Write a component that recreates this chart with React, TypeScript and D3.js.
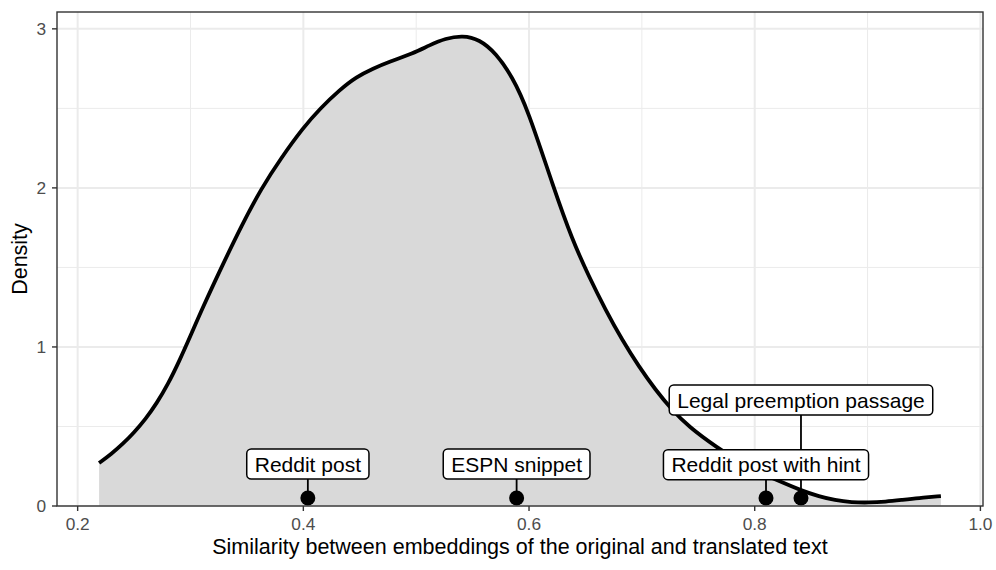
import * as React from "react";
import * as d3 from "d3";

// density curve (similarity, density)
const similarity = [
  0.219, 0.230, 0.240, 0.250, 0.260, 0.270, 0.280, 0.290, 0.300, 0.311,
  0.3274, 0.345, 0.363, 0.380, 0.400, 0.415, 0.432, 0.447, 0.462, 0.476,
  0.497, 0.512, 0.526, 0.541, 0.556, 0.571, 0.585, 0.5986, 0.6218, 0.6384,
  0.6532, 0.6679, 0.6826, 0.6974, 0.7122, 0.7268, 0.7416, 0.7652, 0.795, 0.821,
  0.842, 0.857, 0.871, 0.886, 0.901, 0.916, 0.930, 0.945, 0.965,
];
const density = [
  0.270, 0.328, 0.390, 0.462, 0.545, 0.645, 0.765, 0.910, 1.070, 1.250,
  1.500, 1.760, 2.000, 2.185, 2.380, 2.500, 2.615, 2.698, 2.751, 2.793,
  2.845, 2.898, 2.940, 2.958, 2.935, 2.845, 2.700, 2.500, 2.000, 1.672,
  1.441, 1.232, 1.043, 0.876, 0.729, 0.603, 0.498, 0.373, 0.240, 0.158,
  0.095, 0.060, 0.036, 0.023, 0.021, 0.027, 0.038, 0.050, 0.062,
];

// highlighted examples
const exampleNames = ["Reddit post", "ESPN snippet", "Reddit post with hint", "Legal preemption passage"];
const exampleScores = [0.404, 0.589, 0.81, 0.841];
const exampleLabelY = [0.264, 0.264, 0.26, 0.666];
const pointY = 0.05;

const xTicks = [0.2, 0.4, 0.6, 0.8, 1.0];
const xMinor = [0.3, 0.5, 0.7, 0.9];
const yTicks = [0, 1, 2, 3];
const yMinor = [0.5, 1.5, 2.5];

const width = 996;
const height = 570;
const font = "'Liberation Sans', Arial, Helvetica, sans-serif";

export default function App() {
  const left = 57, right = 983, top = 12, bottom = 506;

  const pts = similarity.map((s, i) => ({ x: s, y: density[i] }));
  const xr = d3.extent(similarity) as [number, number];
  const pad = (xr[1] - xr[0]) * 0.05;
  const x = d3.scaleLinear().domain([xr[0] - pad, xr[1] + pad]).range([left, right]);
  const y = d3.scaleLinear().domain([0, d3.max(density)! * 1.05]).range([bottom, top]);

  const area = d3.area<{ x: number; y: number }>()
    .x(d => x(d.x)).y0(y(0)).y1(d => y(d.y))
    .curve(d3.curveBasis);
  const line = d3.line<{ x: number; y: number }>()
    .x(d => x(d.x)).y(d => y(d.y))
    .curve(d3.curveBasis);

  const fmt = d3.format(".1f");

  return (
    <div style={{ position: "absolute", left: 0, top: 0 }}>
      <svg width={width} height={height} style={{ display: "block", fontFamily: font }}>
        <rect width={width} height={height} fill="#fff" />
        {/* grid */}
        {xMinor.map(t => (
          <line key={"xm" + t} x1={x(t)} x2={x(t)} y1={top} y2={bottom} stroke="#EBEBEB" strokeWidth={1} />
        ))}
        {yMinor.map(t => (
          <line key={"ym" + t} x1={left} x2={right} y1={y(t)} y2={y(t)} stroke="#EBEBEB" strokeWidth={1} />
        ))}
        {xTicks.map(t => (
          <line key={"xg" + t} x1={x(t)} x2={x(t)} y1={top} y2={bottom} stroke="#EBEBEB" strokeWidth={2} />
        ))}
        {yTicks.map(t => (
          <line key={"yg" + t} x1={left} x2={right} y1={y(t)} y2={y(t)} stroke="#EBEBEB" strokeWidth={2} />
        ))}

        {/* density */}
        <path d={area(pts)!} fill="#D9D9D9" />
        <path d={line(pts)!} fill="none" stroke="#000" strokeWidth={3.8} strokeLinejoin="round" />

        {/* segments, points */}
        {exampleScores.map((s, i) => (
          <line key={"seg" + i} x1={x(s)} x2={x(s)} y1={y(exampleLabelY[i]) + 15} y2={y(pointY)} stroke="#000" strokeWidth={1.8} />
        ))}
        {exampleScores.map((s, i) => (
          <circle key={"pt" + i} cx={x(s)} cy={y(pointY)} r={7.5} fill="#000" />
        ))}

        {/* labels */}
        {exampleNames.map((name, i) => (
          <g key={"lab" + i} transform={`translate(${x(exampleScores[i])},${y(exampleLabelY[i])})`}>
            <LabelBox text={name} />
          </g>
        ))}

        {/* panel border */}
        <rect x={left} y={top} width={right - left} height={bottom - top} fill="none" stroke="#333" strokeWidth={1.4} />

        {/* axes */}
        {xTicks.map(t => (
          <g key={"xt" + t}>
            <line x1={x(t)} x2={x(t)} y1={bottom} y2={bottom + 5} stroke="#333" strokeWidth={1.4} />
            <text x={x(t)} y={529.5} textAnchor="middle" fontSize={17.3} fill="#4D4D4D">{fmt(t)}</text>
          </g>
        ))}
        {yTicks.map(t => (
          <g key={"yt" + t}>
            <line x1={left - 5} x2={left} y1={y(t)} y2={y(t)} stroke="#333" strokeWidth={1.4} />
            <text x={46} y={y(t)} dy="0.36em" textAnchor="end" fontSize={17.3} fill="#4D4D4D">{t}</text>
          </g>
        ))}
        <text x={(left + right) / 2} y={554} textAnchor="middle" fontSize={21.5} fill="#000">
          Similarity between embeddings of the original and translated text
        </text>
        <text transform={`translate(27,${(top + bottom) / 2}) rotate(-90)`} textAnchor="middle" fontSize={21.5} fill="#000">
          Density
        </text>
      </svg>
    </div>
  );
}

const LabelBox = ({ text }: { text: string }) => {
  const ref = React.useRef<SVGTextElement>(null);
  const [w, setW] = React.useState(0);
  React.useLayoutEffect(() => {
    if (ref.current) setW(ref.current.getComputedTextLength());
  }, [text]);
  const padX = 8;
  return (
    <g>
      <rect x={-w / 2 - padX} y={-15} width={w + padX * 2} height={30} rx={4.5} fill="#fff" stroke="#000" strokeWidth={1.5} />
      <text ref={ref} x={0} y={0} dy="0.36em" textAnchor="middle" fontSize={21} fill="#000">{text}</text>
    </g>
  );
};
